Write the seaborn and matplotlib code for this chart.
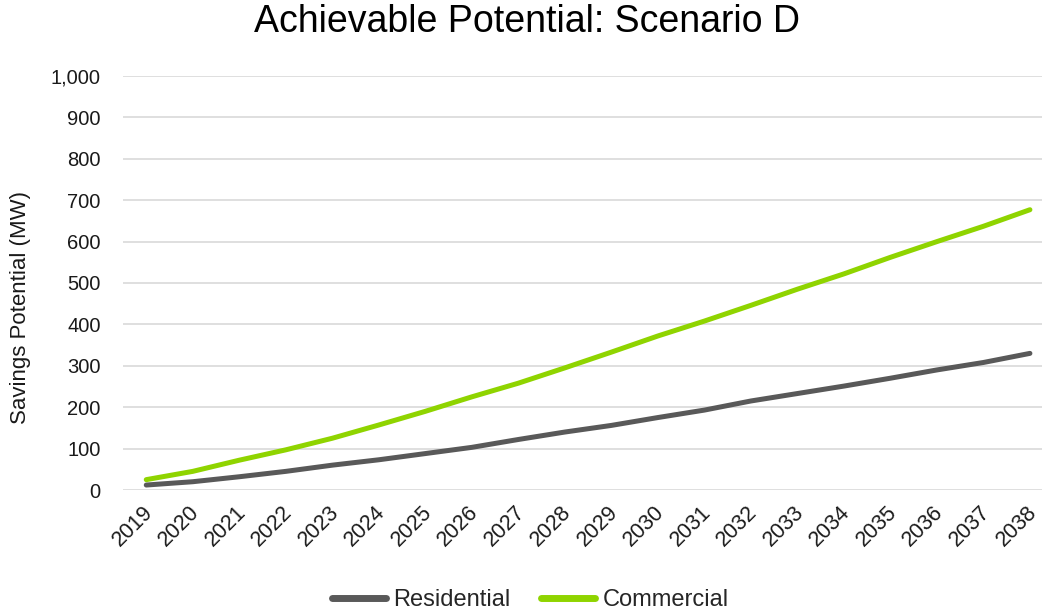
import matplotlib
matplotlib.use("Agg")
import matplotlib.pyplot as plt
import matplotlib.transforms as mtransforms
import seaborn as sns
import pandas as pd

years = list(range(2019, 2039))
residential = [12, 20, 32, 45, 60, 73, 88, 103, 122, 140, 156, 175, 193, 215, 233, 251, 270, 290, 308, 330]
commercial = [25, 45, 72, 97, 125, 157, 190, 225, 258, 295, 333, 372, 408, 446, 485, 522, 562, 600, 637, 677]
series_names = ["Residential", "Commercial"]
colors = ["#595959", "#8FD400"]

df = pd.DataFrame({
    "idx": list(range(len(years))) * 2,
    "Year": [str(y) for y in years] * 2,
    "Value": residential + commercial,
    "Series": [series_names[0]] * len(years) + [series_names[1]] * len(years),
})

sns.set_theme(style="white")
plt.rcParams['font.family'] = ['Liberation Sans', 'DejaVu Sans']

fig = plt.figure(figsize=(10.42, 6.13), dpi=100)
ax = fig.add_axes([123/1042, 1 - 490/613, 1 - 123/1042, (490 - 76)/613])

sns.lineplot(data=df, x="idx", y="Value", hue="Series", palette=colors,
             linewidth=3.6, ax=ax, legend=True, solid_capstyle="round")

ax.set_xlim(-0.5, (1042 - 147) / 46.47)
ax.set_ylim(0, 1000)
ax.set_yticks(range(0, 1001, 100))
ax.set_yticklabels([f"{v:,}" for v in range(0, 1001, 100)], fontsize=14.5, color="#1a1a1a")
ax.set_xticks(range(len(years)))
ax.set_xticklabels([])
# year labels, rotated 45 degrees, anchored at their upper-right corner below each category
trans = mtransforms.blended_transform_factory(ax.transData, ax.transAxes) + \
    mtransforms.ScaledTranslation(-4/100, -12/100, fig.dpi_scale_trans)
for i, y in enumerate(years):
    ax.text(i, 0, str(y), transform=trans, rotation=45, ha="right", va="top",
            rotation_mode="anchor", fontsize=15.5, color="#1a1a1a", clip_on=False)
ax.tick_params(axis="y", length=0, pad=16)
ax.tick_params(axis="x", length=0)
ax.yaxis.grid(True, color="#D9D9D9", linewidth=1.2)
ax.xaxis.grid(False)
for s in ax.spines.values():
    s.set_visible(False)
ax.set_xlabel("")
ax.set_ylabel("Savings Potential (MW)", fontsize=16, color="#1a1a1a", va="center")
ax.yaxis.set_label_coords(-0.112, 0.442)

fig.suptitle("Achievable Potential: Scenario D", fontsize=27, x=527/1042, y=1 - 22/613,
             va="center", color="#000000")

leg = ax.legend(loc="center", bbox_to_anchor=(530/1042, 1 - 600/613), bbox_transform=fig.transFigure,
                ncol=2, frameon=False, fontsize=17, handlelength=2.3, handletextpad=0.3,
                columnspacing=1.3)
for line in leg.get_lines():
    line.set_linewidth(5)

fig.savefig("out.png", dpi=100)
